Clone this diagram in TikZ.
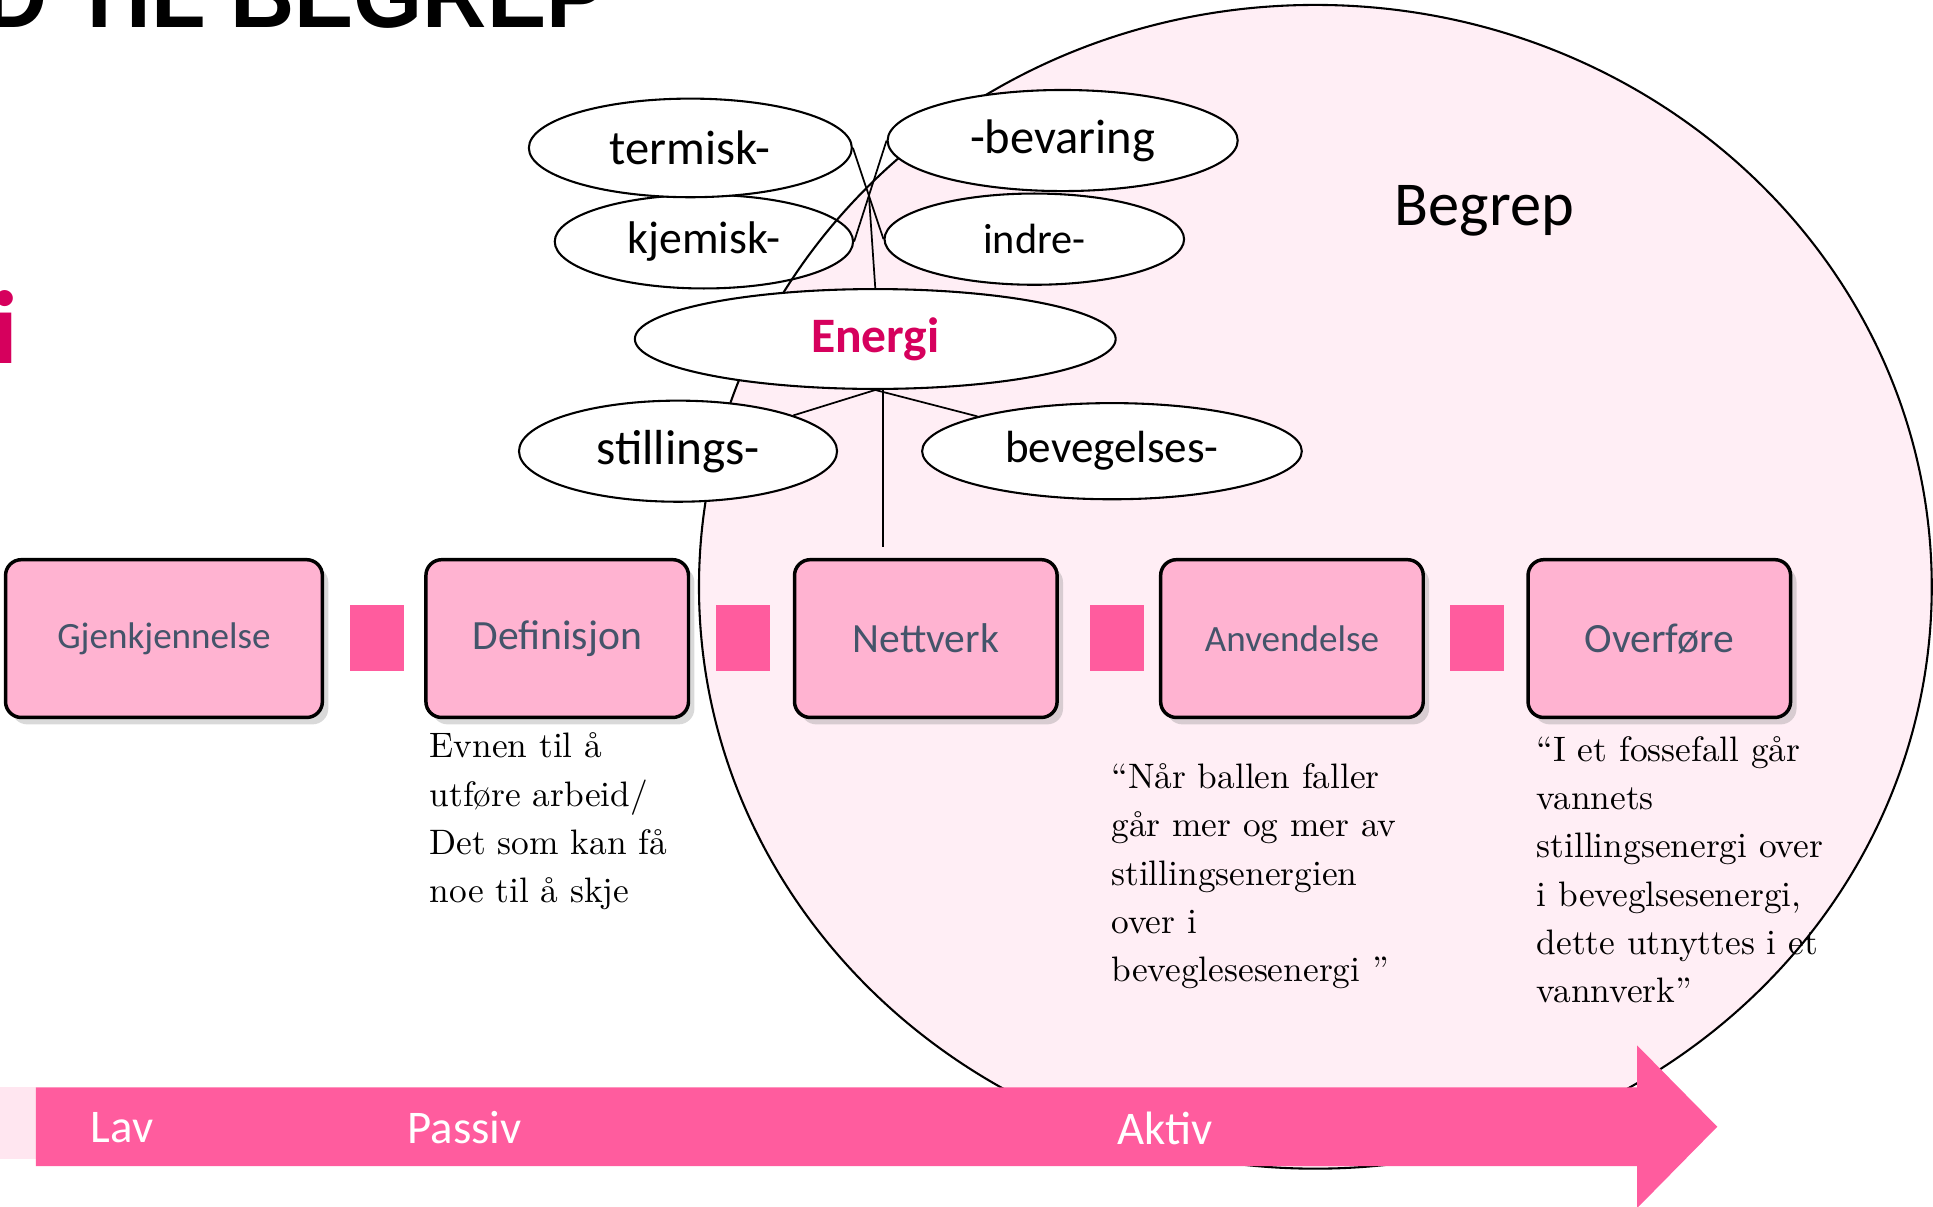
\documentclass[tikz,border=0pt]{standalone}
\usepackage{fontspec}
\setsansfont{Carlito}
\newfontfamily\titlefont{Liberation Sans}
\usetikzlibrary{shapes.geometric,shadows}
\definecolor{begrep}{HTML}{FFEEF5}
\definecolor{begreplys}{HTML}{FFE6F0}
\definecolor{boks}{HTML}{FFB3D1}
\definecolor{rosa}{HTML}{FF5C9E}
\definecolor{skifer}{HTML}{44546A}
\definecolor{energi}{HTML}{D6005D}
\newcommand{\pxu}{0.0125cm}
\newcommand{\fsz}[1]{\fontsize{#1}{#1}\selectfont}

\begin{document}
\begin{tikzpicture}[x=0.0125cm,y=-0.0125cm,
    ord/.style={ellipse,draw,fill=white,line width=0.6pt,inner sep=0pt,font=\sffamily\fsz{#1}},
    nivaa/.style={draw,line width=1pt,rounded corners=1.6mm,fill=boks,text=skifer,minimum height=128*\pxu,
        drop shadow={shadow xshift=0.6mm,shadow yshift=-0.7mm,opacity=0.3}},
    sitat/.style={anchor=north west,align=left,inner sep=0pt,font=\fontsize{10.2pt}{13.9pt}\selectfont},
    pilord/.style={anchor=west,text=white,inner sep=0pt,font=\sffamily\fsz{13.5pt}},
    tynn/.style={line width=0.5pt}]
\useasboundingbox (0,0) rectangle (1568,979);

\node[font=\titlefont\bfseries\fsz{27pt},anchor=base east,xscale=0.95,inner sep=0pt] (tittel) at (492,22) {D TIL BEGREP};
\node[font=\sffamily\bfseries\fsz{30pt},text=energi,anchor=base east,inner sep=0pt] (tema) at (15,295) {i};

\fill[begrep] (1067,476) ellipse [x radius=500, y radius=472];
\node[ord=13.2pt,minimum width=242*\pxu,minimum height=76*\pxu] (kjemisk) at (571,196) {kjemisk-};
\draw[line width=0.6pt] (1067,476) ellipse [x radius=500, y radius=472];
\node[ord=14pt,minimum width=262*\pxu,minimum height=80*\pxu] (termisk) at (560,120) {termisk-};
\node[ord=14pt,minimum width=284*\pxu,minimum height=82*\pxu] (bevaring) at (862,114) {-bevaring};
\node[ord=12.2pt,minimum width=243*\pxu,minimum height=74*\pxu] (indre) at (839,194) {indre-};
\node[ord=14pt,minimum width=390*\pxu,minimum height=81*\pxu,font=\sffamily\bfseries\fsz{14.3pt},text=energi] (Energi) at (710,275) {Energi};
\node[ord=14.2pt,minimum width=258*\pxu,minimum height=82*\pxu] (stillings) at (550,366) {stillings-};
\node[ord=13pt,minimum width=308*\pxu,minimum height=78*\pxu] (bevegelses) at (902,366) {bevegelses-};
\node[font=\sffamily\fsz{18pt}] (begrep) at (1204,171) {Begrep};

\coordinate (kryss) at (intersection of termisk.east--indre.west and kjemisk.east--bevaring.west);
\coordinate (nettopp) at (716,444);
\draw[tynn] (termisk.east) -- (indre.west);
\draw[tynn] (kjemisk.east) -- (bevaring.west);
\draw[tynn] (kryss) -- (Energi.north);
\draw[tynn] (Energi.south) -- (stillings);
\draw[tynn] (Energi.south) -- (bevegelses);
\draw[tynn] (nettopp |- Energi.south) -- (nettopp);

\foreach \navn/\x/\b/\fs/\tekst in {gjenkj/133/257/10.7pt/Gjenkjennelse,def/452/213/12pt/Definisjon,
        nett/751/213/12pt/Nettverk,anv/1048/213/10.7pt/Anvendelse,over/1346/213/12pt/Overføre}
    \node[nivaa,minimum width=\b*\pxu,font=\sffamily\fsz{\fs}] (\navn) at (\x,518) {\tekst};
\foreach \x in {306,603,906,1198}
    \fill[rosa] (\x-22,491) rectangle (\x+22,544);

\node[sitat] (deftekst) at (348,594) {Evnen til å\\utføre arbeid/\\Det som kan få\\noe til å skje};
\node[sitat] (anvtekst) at (901,619) {“Når ballen faller\\går mer og mer av\\stillingsenergien\\over i\\beveglesesenergi ”};
\node[sitat] (overtekst) at (1246,597) {“I et fossefall går\\vannets\\stillingsenergi over\\i beveglsesenergi,\\dette utnyttes i et\\vannverk”};

\fill[begreplys] (0,882) rectangle (29,940);
\fill[rosa] (29,882) -- (1328,882) -- (1328,848) -- (1393,914) -- (1328,980) -- (1328,946) -- (29,946) -- cycle;
\node[pilord] (lav) at (73,915) {Lav};
\node[pilord] (passiv) at (330,915) {Passiv};
\node[pilord] (aktiv) at (906,915) {Aktiv};
\end{tikzpicture}
\end{document}
